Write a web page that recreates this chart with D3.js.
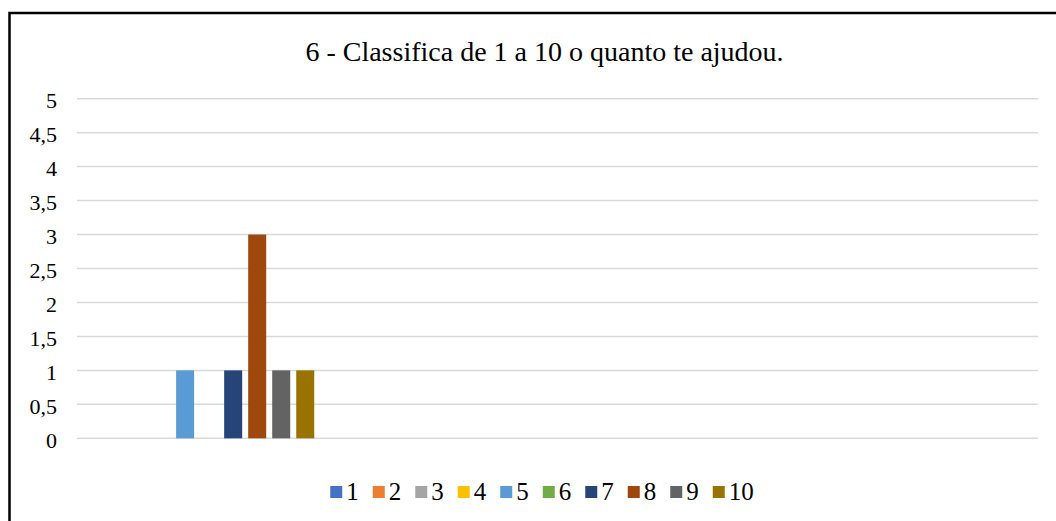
<!DOCTYPE html>
<html>
<head>
<meta charset="utf-8">
<script src="https://cdn.jsdelivr.net/npm/d3@7"></script>
<style>
  html, body { margin: 0; padding: 0; background: #fff; }
  svg text { font-family: "Liberation Serif", "DejaVu Serif", "Times New Roman", serif; }
</style>
</head>
<body>
<svg id="chart" width="1056" height="521"></svg>
<script>
// Chart data
const title = "6 - Classifica de 1 a 10 o quanto te ajudou.";
const groups = ["g1", "g2", "g3", "g4"];          // category slots on the x axis (unlabelled)
const seriesNames = ["1", "2", "3", "4", "5", "6", "7", "8", "9", "10"];
const seriesColors = ["#4472C4", "#ED7D31", "#A5A5A5", "#FFC000", "#5B9BD5",
                      "#70AD47", "#264478", "#9E480E", "#636363", "#997300"];
// counts per series, one entry per group
const counts = [
  [0, null, null, null],
  [0, null, null, null],
  [0, null, null, null],
  [0, null, null, null],
  [1, null, null, null],
  [0, null, null, null],
  [1, null, null, null],
  [3, null, null, null],
  [1, null, null, null],
  [1, null, null, null]
];
const yTicks = [0, 0.5, 1, 1.5, 2, 2.5, 3, 3.5, 4, 4.5, 5];

const FONT = "'Liberation Serif', 'DejaVu Serif', 'Times New Roman', serif";
const svg = d3.select("#chart");

// outer frame (runs past the right and bottom edges)
svg.append("rect")
  .attr("x", 9.5).attr("y", 13)
  .attr("width", 1200).attr("height", 700)
  .attr("fill", "none").attr("stroke", "#000").attr("stroke-width", 2.5);

const plot = { left: 77, right: 1038, top: 98.7, bottom: 438.3 };

const y = d3.scaleLinear().domain([0, 5]).range([plot.bottom, plot.top]);
const x0 = d3.scaleBand().domain(groups).range([plot.left, plot.right]).padding(0);
const x1 = d3.scaleBand().domain(seriesNames)
  .range([3, x0.bandwidth() - 3])
  .paddingInner(0.25).paddingOuter(0);

// gridlines
svg.append("g")
  .selectAll("line")
  .data(yTicks)
  .join("line")
  .attr("x1", plot.left).attr("x2", plot.right)
  .attr("y1", d => y(d)).attr("y2", d => y(d))
  .attr("stroke", "#d9d9d9").attr("stroke-width", 1.5);

// y axis labels
const fmt = d => String(d).replace(".", ",");
const yAxis = svg.append("g")
  .attr("transform", `translate(${plot.left - 20},0)`)
  .call(d3.axisLeft(y).tickValues(yTicks).tickFormat(fmt).tickSize(0).tickPadding(0));
yAxis.attr("font-family", FONT);
yAxis.select(".domain").remove();
yAxis.selectAll("text")
  .attr("font-family", FONT)
  .attr("font-size", 22)
  .attr("fill", "#000")
  .attr("dy", "0.4em");

// bars
const barData = [];
seriesNames.forEach((s, si) => {
  groups.forEach((g, gi) => {
    const v = counts[si][gi];
    if (v != null) barData.push({ s, g, v, c: seriesColors[si] });
  });
});
svg.append("g")
  .selectAll("rect")
  .data(barData)
  .join("rect")
  .attr("x", d => x0(d.g) + x1(d.s))
  .attr("width", x1.bandwidth())
  .attr("y", d => y(d.v))
  .attr("height", d => y(0) - y(d.v))
  .attr("fill", d => d.c);

// title
svg.append("text")
  .attr("x", 544.5).attr("y", 60.5)
  .attr("text-anchor", "middle")
  .attr("font-family", FONT)
  .attr("font-size", 28)
  .attr("fill", "#000")
  .text(title);

// legend
const legend = svg.append("g");
const items = legend.selectAll("g")
  .data(seriesNames)
  .join("g");
items.append("rect")
  .attr("width", 12).attr("height", 12)
  .attr("y", 486)
  .attr("fill", (d, i) => seriesColors[i]);
items.append("text")
  .attr("x", 16).attr("y", 500)
  .attr("font-family", FONT)
  .attr("font-size", 25)
  .attr("fill", "#000")
  .text(d => d);
let cx = 0;
items.each(function () {
  const w = d3.select(this).select("text").node().getComputedTextLength();
  d3.select(this).attr("data-x", cx);
  cx += 16 + w + 14;
});
const total = cx - 14;
const startX = 542 - total / 2;
items.attr("transform", function () {
  return `translate(${startX + (+this.getAttribute("data-x"))},0)`;
});
</script>
</body>
</html>
